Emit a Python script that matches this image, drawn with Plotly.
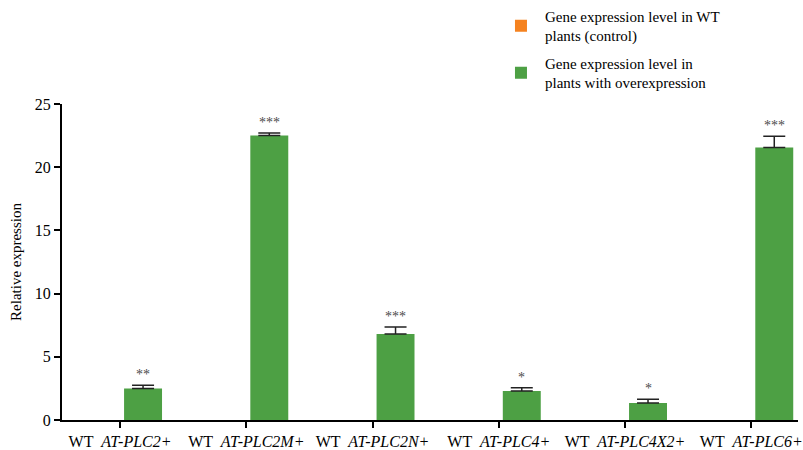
import plotly.graph_objects as go

# Relative expression of each AT-PLC construct against wild type
genes = ["AT-PLC2+", "AT-PLC2M+", "AT-PLC2N+", "AT-PLC4+", "AT-PLC4X2+", "AT-PLC6+"]
wt_values = [0, 0, 0, 0, 0, 0]
oe_values = [2.5, 22.5, 6.8, 2.3, 1.35, 21.55]
oe_errors = [0.25, 0.2, 0.55, 0.25, 0.3, 0.9]
significance = ["**", "***", "***", "*", "*", "***"]
y_ticks = [0, 5, 10, 15, 20, 25]

tick_text = [f"WT  <i>{g}</i>" for g in genes]
x_pos = list(range(len(genes)))

FONT = "Liberation Serif, Times New Roman, serif"
ORANGE = "#F5821F"
GREEN = "#4DA044"

fig = go.Figure()
fig.add_trace(go.Bar(
    x=x_pos, y=wt_values, legendgroup="wt",
    name="Gene expression level in WT<br>plants (control)",
    marker=dict(color=ORANGE, line=dict(width=0)),
))
fig.add_trace(go.Bar(
    x=x_pos, y=oe_values, legendgroup="oe",
    name="Gene expression level in<br>plants with overexpression",
    marker=dict(color=GREEN, line=dict(width=0)),
    error_y=dict(type="data", array=oe_errors, symmetric=False,
                 arrayminus=[0] * len(oe_errors),
                 color="#222222", thickness=1.5, width=11),
))

# Significance stars above each overexpression bar
for i, (v, e, s) in enumerate(zip(oe_values, oe_errors, significance)):
    fig.add_annotation(
        x=i + 0.182, y=v + e, text=s, showarrow=False,
        yanchor="bottom", yshift=1,
        font=dict(family=FONT, size=14, color="#4a4a4a"),
    )

fig.update_layout(
    width=803, height=450,
    margin=dict(l=62, r=5, t=104, b=30, autoexpand=False),
    paper_bgcolor="white", plot_bgcolor="white",
    barmode="group", bargap=0.272, bargroupgap=0.174,
    font=dict(family=FONT, size=15, color="black"),
    showlegend=True,
    legend=dict(
        x=0.591, y=1.33, xanchor="left", yanchor="top",
        font=dict(family=FONT, size=15, color="black"),
        tracegroupgap=5, itemwidth=38, bgcolor="rgba(0,0,0,0)",
    ),
    xaxis=dict(
        tickmode="array", tickvals=x_pos, ticktext=tick_text,
        range=[-0.46, 5.37],
        showline=True, linecolor="black", linewidth=2,
        ticks="outside", ticklen=6, tickwidth=2, tickcolor="black",
        showgrid=False, zeroline=False,
        tickfont=dict(family=FONT, size=16, color="black"),
    ),
    yaxis=dict(
        range=[0, 25], tickvals=y_ticks,
        showline=True, linecolor="black", linewidth=2,
        ticks="outside", ticklen=6, tickwidth=2, tickcolor="black",
        showgrid=False, zeroline=False,
        tickfont=dict(family=FONT, size=16, color="black"),
        title=dict(text="Relative expression", standoff=10,
                   font=dict(family=FONT, size=15, color="black")),
    ),
)

fig.write_html("out.html")
